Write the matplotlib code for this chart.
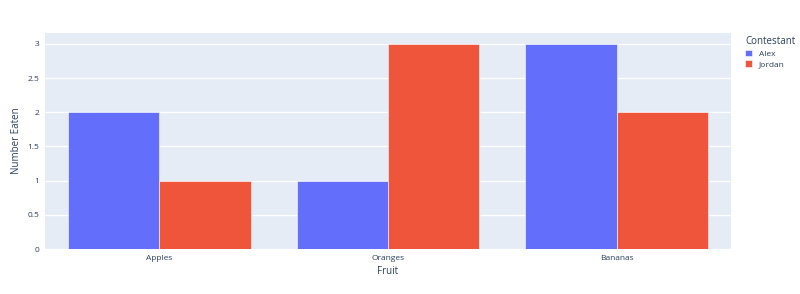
import numpy as np
import matplotlib.pyplot as plt

# === Data ===
fruits = ["Apples", "Oranges", "Bananas"]
alex = [2, 1, 3]
jordan = [1, 3, 2]
contestants = ["Alex", "Jordan"]
y_ticks = [0, 0.5, 1, 1.5, 2, 2.5, 3]
y_tick_labels = ["0", "0.5", "1", "1.5", "2", "2.5", "3"]

# === Style ===
txt = "#2a3f5f"
colors = ["#636efa", "#EF553B"]
plt.rcParams['font.family'] = ['Open Sans', 'DejaVu Sans']

fig = plt.figure(figsize=(8, 2.94), dpi=100)
ax = fig.add_axes([45 / 800, 1 - 249 / 294, (731 - 45) / 800, (249 - 33) / 294])
ax.set_facecolor("#E5ECF6")

x = np.arange(len(fruits))
w = 0.4
for i, (vals, name) in enumerate(zip([alex, jordan], contestants)):
    ax.bar(x - w / 2 + i * w, vals, width=w, color=colors[i], label=name,
           edgecolor="white", linewidth=0.4, zorder=3)

ax.set_xlim(-0.5, 2.5)
ax.set_ylim(0, 3.158)
ax.set_yticks(y_ticks)
ax.set_yticklabels(y_tick_labels)
ax.set_xticks(x)
ax.set_xticklabels(fruits)
ax.grid(axis="y", color="white", linewidth=1, zorder=0)
ax.tick_params(length=0, labelsize=6, colors=txt, pad=4)
for s in ax.spines.values():
    s.set_visible(False)

ax.set_xlabel("Fruit", fontsize=7, color=txt, labelpad=3)
ax.set_ylabel("Number Eaten", fontsize=7, color=txt, labelpad=4)

leg = ax.legend(title="Contestant", loc="upper left", frameon=False,
                bbox_to_anchor=(742 / 800, 1 - 33 / 294), bbox_transform=fig.transFigure,
                fontsize=6, title_fontsize=7, handlelength=0.8, handleheight=0.8,
                handletextpad=0.8, labelspacing=0.3, borderaxespad=0)
leg._legend_box.align = "left"
for t in leg.get_texts():
    t.set_color(txt)
leg.get_title().set_color(txt)

fig.savefig("out.png", dpi=100, facecolor="white")
